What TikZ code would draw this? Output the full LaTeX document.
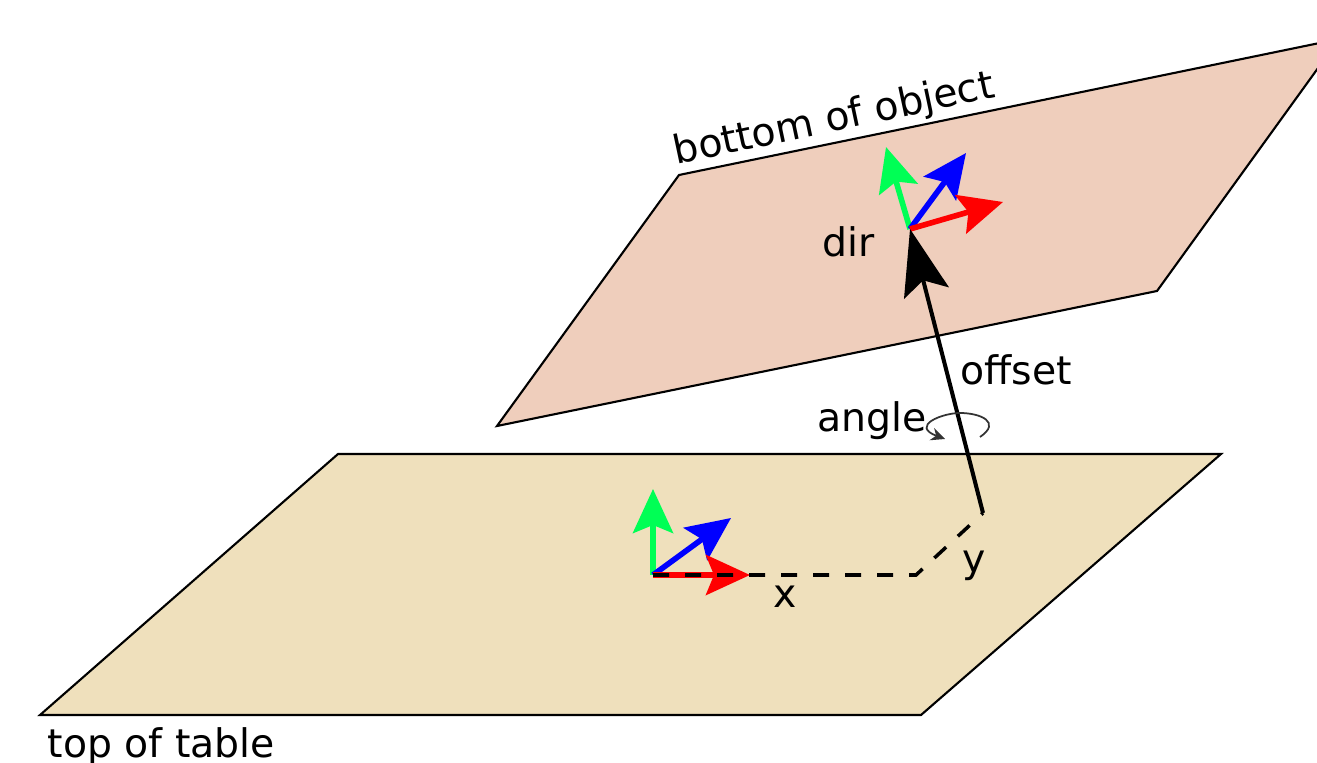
\documentclass[tikz,border=0pt]{standalone}
\usepackage{xcolor}
\usepackage{fontspec}
\setmainfont{DejaVu Sans}
\usetikzlibrary{arrows.meta}
\definecolor{tablec}{HTML}{EFE0BC}
\definecolor{objc}{HTML}{EFCEBC}
\definecolor{axg}{HTML}{00FF55}
\definecolor{axb}{HTML}{0000FF}
\definecolor{axr}{HTML}{FF0000}
\tikzset{
  plane/.style={draw=black,line width=0.6pt,line join=miter},
  axis/.style={line width=1.6pt,-{Stealth[length=4.4mm,width=4mm,inset=0.8mm]}},
  offs/.style={line width=1.15pt,-{Stealth[length=6.6mm,width=4.6mm,inset=1.3mm]}},
  dsh/.style={line width=1pt,dash pattern=on 1.6mm off 1.6mm},
  lab/.style={font=\fontsize{11.2}{13}\selectfont,inner sep=0pt}
}
\begin{document}
\begin{tikzpicture}
\useasboundingbox (0,0) rectangle (13.17,7.62);
\clip (0,0) rectangle (13.17,7.62);
% planes
\coordinate (A) at (0.40,0.47); \coordinate (B) at (3.38,3.08);
\coordinate (C) at (12.21,3.08); \coordinate (D) at (9.21,0.47);
\coordinate (E) at (4.97,3.36); \coordinate (F) at (6.79,5.87);
\coordinate (G) at (13.39,7.23); \coordinate (H) at (11.57,4.71);
\draw[plane,fill=tablec] (A)--(B)--(C)--(D)--cycle;
\draw[plane,fill=objc] (E)--(F)--(G)--(H)--cycle;
% lower frame
\coordinate (O1) at (6.53,1.87);
\coordinate (g1) at (6.53,2.73); \coordinate (b1) at (7.31,2.44); \coordinate (r1) at (7.50,1.87);
\draw[axis,axg] (O1)--(g1); \draw[axis,axb] (O1)--(b1); \draw[axis,axr] (O1)--(r1);
% upper frame
\coordinate (O2) at (9.10,5.33);
\coordinate (g2) at (8.86,6.15); \coordinate (b2) at (9.66,6.09); \coordinate (r2) at (10.03,5.60);
\draw[axis,axg] (O2)--(g2); \draw[axis,axb] (O2)--(b2); \draw[axis,axr] (O2)--(r2);
% offset
\coordinate (bend) at (9.16,1.87); \coordinate (foot) at (9.83,2.49);
\draw[dsh] (O1)--(bend)--(foot);
\draw[offs] (foot)--(O2);
% rotation mark
\coordinate (s) at (9.80,3.25); \coordinate (e) at (9.45,3.23);
\draw[black!80,line width=0.5pt,-{Stealth[length=1.4mm,width=1.3mm]}] (s) .. controls (10.02,3.40) and (9.80,3.49) .. (9.60,3.49)
  .. controls (9.42,3.49) and (9.10,3.36) .. (e);
% labels
\node[lab,rotate=12,anchor=base west] (top) at (6.76,5.97) {bottom of object};
\node[lab,anchor=base west] (bot) at (0.47,0.05) {top of table};
\node[lab,anchor=base west] (dir) at (8.22,5.05) {dir};
\node[lab,anchor=base west] (off) at (9.60,3.77) {offset};
\node[lab,anchor=base west] (ang) at (8.17,3.30) {angle};
\node[lab,anchor=base west] (x) at (7.73,1.55) {x};
\node[lab,anchor=base west] (y) at (9.62,1.90) {y};
\end{tikzpicture}
\end{document}
